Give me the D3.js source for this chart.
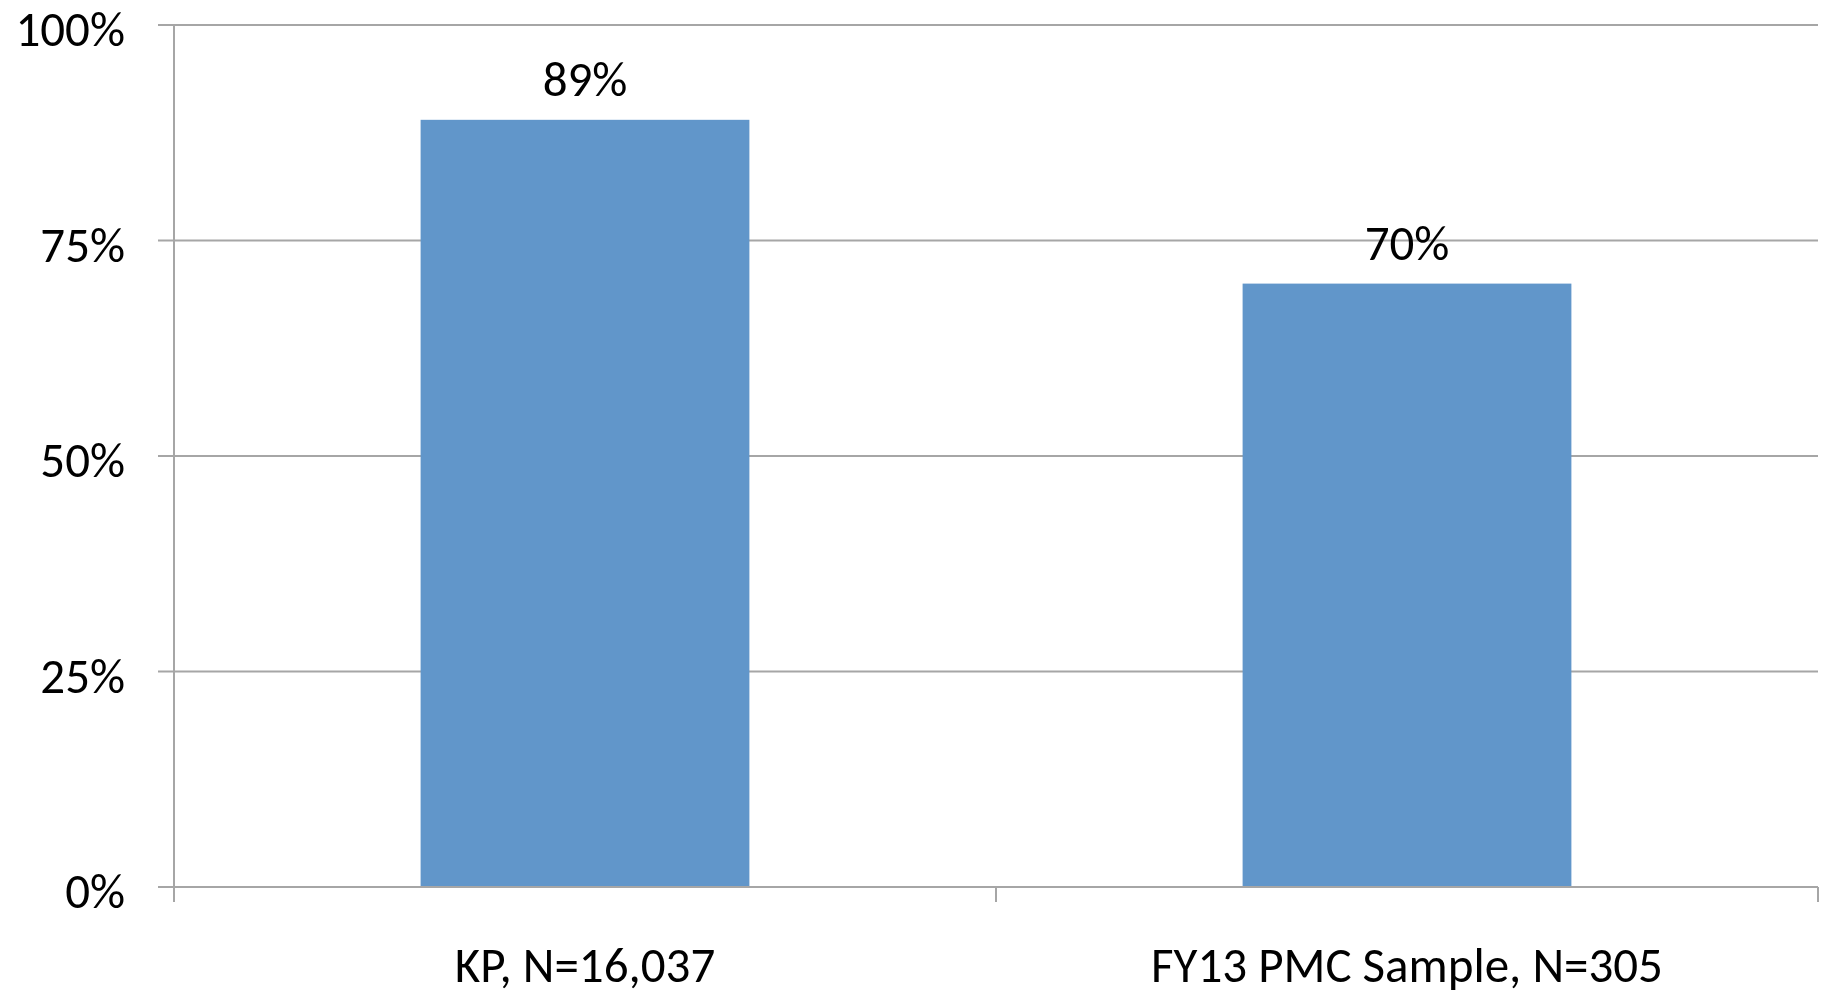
<!DOCTYPE html>
<html><head><meta charset="utf-8">
<script src="https://cdn.jsdelivr.net/npm/d3@7"></script>
<style>html,body{margin:0;padding:0;background:#fff;} svg{display:block;}</style>
</head><body>
<svg id="c" width="1825" height="995"></svg>
<script>
const categories = ["KP, N=16,037", "FY13 PMC Sample, N=305"];
const values = [0.89, 0.70];
const valueLabels = ["89%", "70%"];
const yTicks = [0, 0.25, 0.5, 0.75, 1.0];
const yTickLabels = ["0%", "25%", "50%", "75%", "100%"];

(function () {
const svg = d3.select("#c");
const mLeft = 174, mRight = 1818, mTop = 25, mBottom = 887;
const font = "Carlito, Lato, sans-serif";
const fs = 49;
const grid = "#a6a6a6";

const x = d3.scaleBand().domain(categories).range([mLeft, mRight]).paddingInner(0.6).paddingOuter(0.3);
const y = d3.scaleLinear().domain([0, 1]).range([mBottom, mTop]);

svg.append("g").selectAll("line").data(yTicks).join("line")
  .attr("x1", mLeft - 16).attr("x2", mRight)
  .attr("y1", d => y(d)).attr("y2", d => y(d))
  .attr("stroke", grid).attr("stroke-width", 2);

svg.append("g").selectAll("text").data(yTicks).join("text")
  .attr("x", 125).attr("y", d => y(d) + 21)
  .attr("text-anchor", "end")
  .attr("font-family", font).attr("font-size", fs).attr("fill", "#000")
  .text((d, i) => yTickLabels[i]);

svg.append("g").selectAll("rect").data(values).join("rect")
  .attr("x", (d, i) => x(categories[i]))
  .attr("width", x.bandwidth())
  .attr("y", d => y(d))
  .attr("height", d => y(0) - y(d))
  .attr("fill", "#6196ca");

svg.append("line").attr("x1", mLeft).attr("x2", mLeft).attr("y1", mTop).attr("y2", mBottom + 15)
  .attr("stroke", grid).attr("stroke-width", 2);
svg.append("line").attr("x1", mLeft - 16).attr("x2", mRight).attr("y1", mBottom).attr("y2", mBottom)
  .attr("stroke", grid).attr("stroke-width", 2);
const bounds = [mLeft, (x(categories[0]) + x.bandwidth() + x(categories[1])) / 2, mRight];
svg.append("g").selectAll("line").data(bounds).join("line")
  .attr("x1", d => d).attr("x2", d => d).attr("y1", mBottom).attr("y2", mBottom + 15)
  .attr("stroke", grid).attr("stroke-width", 2);

svg.append("g").selectAll("text").data(values).join("text")
  .attr("x", (d, i) => x(categories[i]) + x.bandwidth() / 2)
  .attr("y", d => y(d) - 24)
  .attr("text-anchor", "middle")
  .attr("font-family", font).attr("font-size", fs).attr("fill", "#000")
  .text((d, i) => valueLabels[i]);

svg.append("g").selectAll("text").data(categories).join("text")
  .attr("x", d => x(d) + x.bandwidth() / 2)
  .attr("y", 982)
  .attr("text-anchor", "middle")
  .attr("font-family", font).attr("font-size", fs).attr("fill", "#000")
  .text(d => d);
})();
</script>
</body></html>
